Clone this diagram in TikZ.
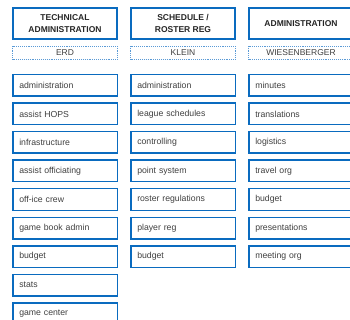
\documentclass[tikz,border=0pt]{standalone}
\usepackage{fontspec}
\setmainfont{Liberation Sans}
\usepackage{tikz}
\definecolor{boxblue}{HTML}{0A6BBF}
\definecolor{dotblue}{HTML}{5A9AD6}
\definecolor{itemgray}{HTML}{404040}
\tikzset{headnode/.style={draw=boxblue, line width=2.5pt, minimum width=104pt, minimum height=31pt,
    inner sep=0pt, align=center, font=\fontsize{8.5}{11.5}\selectfont\bfseries, text=black!85}}
\tikzset{namenode/.style={draw=dotblue, densely dotted, line width=0.9pt, minimum width=105pt, minimum height=13pt,
    inner sep=0pt, font=\fontsize{8.5}{10}\selectfont, text=itemgray}}
\tikzset{itemnode/.style={draw=boxblue, line width=1.5pt, minimum height=21.5pt, inner xsep=6.5pt, inner ysep=0pt,
    text width=91.5pt, align=left, font=\fontsize{8.7}{10}\selectfont, text=itemgray}}

\begin{document}
\begin{tikzpicture}[x=1pt, y=-1pt]

\clip (0,0) rectangle (350,320);
\fill[white] (0,0) rectangle (350,320);

\begin{scope}[xshift=0pt]

  % nodes
  \node [style = headnode] (tech) at (65, 23.5) {TECHNICAL\\ADMINISTRATION};
  \node [style = namenode] (erd) at (65, 53) {ERD};

  \node [style = itemnode] (t1) at (65, 85.5) {administration};
  \node [style = itemnode] (t2) at (65, 114) {assist HOPS};
  \node [style = itemnode] (t3) at (65, 142.5) {infrastructure};
  \node [style = itemnode] (t4) at (65, 171) {assist officiating};
  \node [style = itemnode] (t5) at (65, 199.5) {off-ice crew};
  \node [style = itemnode] (t6) at (65, 228) {game book admin};
  \node [style = itemnode] (t7) at (65, 256.5) {budget};
  \node [style = itemnode] (t8) at (65, 285) {stats};
  \node [style = itemnode] (t9) at (65, 313.5) {game center};

\end{scope}

\begin{scope}[xshift=118pt]

  % nodes
  \node [style = headnode] (sched) at (65, 23.5) {SCHEDULE /\\ROSTER REG};
  \node [style = namenode] (klein) at (65, 53) {KLEIN};

  \node [style = itemnode] (s1) at (65, 85.5) {administration};
  \node [style = itemnode] (s2) at (65, 114) {league schedules};
  \node [style = itemnode] (s3) at (65, 142.5) {controlling};
  \node [style = itemnode] (s4) at (65, 171) {point system};
  \node [style = itemnode] (s5) at (65, 199.5) {roster regulations};
  \node [style = itemnode] (s6) at (65, 228) {player reg};
  \node [style = itemnode] (s7) at (65, 256.5) {budget};

\end{scope}

\begin{scope}[xshift=236pt]

  % nodes
  \node [style = headnode] (admin) at (65, 23.5) {ADMINISTRATION};
  \node [style = namenode] (wiesen) at (65, 53) {WIESENBERGER};

  \node [style = itemnode] (a1) at (65, 85.5) {minutes};
  \node [style = itemnode] (a2) at (65, 114) {translations};
  \node [style = itemnode] (a3) at (65, 142.5) {logistics};
  \node [style = itemnode] (a4) at (65, 171) {travel org};
  \node [style = itemnode] (a5) at (65, 199.5) {budget};
  \node [style = itemnode] (a6) at (65, 228) {presentations};
  \node [style = itemnode] (a7) at (65, 256.5) {meeting org};

\end{scope}

\end{tikzpicture}
\end{document}
